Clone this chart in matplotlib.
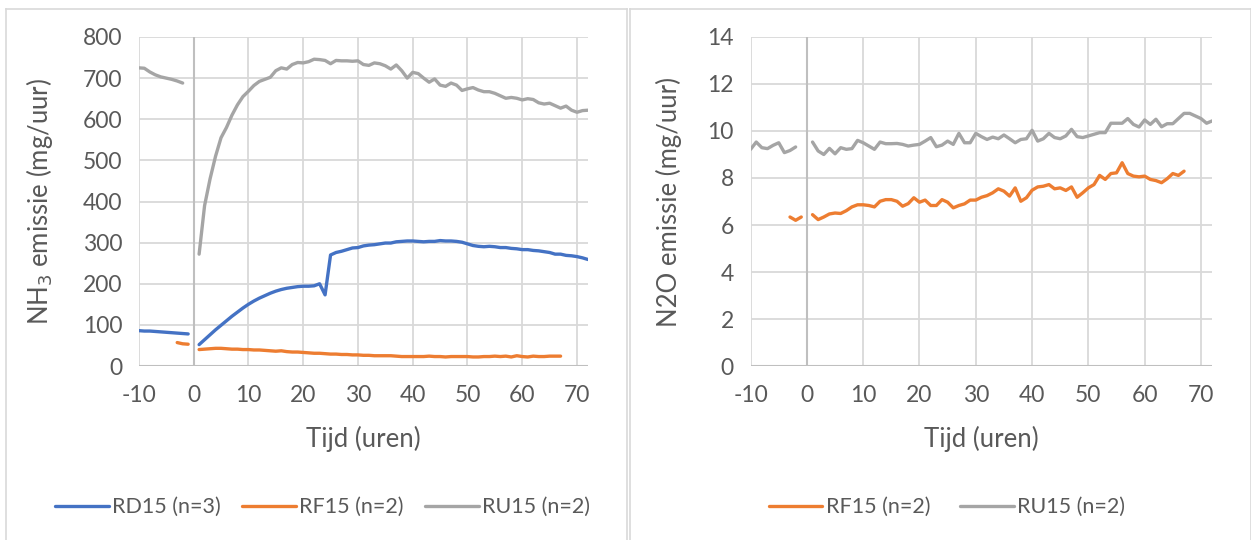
import matplotlib.pyplot as plt
from matplotlib.lines import Line2D

# tijd in uren (voor en na het uitrijden)
uur_voor_10 = list(range(-10, 0))      # -10 .. -1
uur_voor_9 = list(range(-10, -1))      # -10 .. -2
uur_voor_3 = list(range(-3, 0))        # -3 .. -1
uur_na_72 = list(range(1, 73))         # 1 .. 72
uur_na_67 = list(range(1, 68))         # 1 .. 67

# NH3 (mg/uur)
rd15_nh3_voor = [86, 85, 85, 84, 83, 82, 81, 80, 79, 78]
rd15_nh3_na = [52, 64, 76, 88, 99, 110, 121, 131, 141, 150, 158, 165, 171, 177, 182, 186,
               189, 191, 193, 194, 194, 195, 200, 173, 270, 276, 279, 283, 287, 288, 292, 294,
               295, 297, 299, 299, 302, 303, 304, 304, 303, 302, 303, 303, 305, 304, 304, 303,
               301, 297, 293, 291, 290, 291, 290, 288, 288, 286, 285, 283, 283, 281, 280, 278,
               276, 272, 272, 269, 268, 266, 263, 259]
rf15_nh3_voor = [57, 54, 53]
rf15_nh3_na = [40, 41, 42, 43, 43, 42, 41, 41, 40, 40, 39, 39, 38, 37, 36, 37, 35, 34, 34, 33,
               32, 31, 31, 30, 29, 29, 28, 28, 27, 27, 26, 26, 25, 25, 25, 25, 24, 23, 23, 23,
               23, 23, 24, 23, 23, 22, 23, 23, 23, 23, 22, 22, 23, 23, 24, 23, 24, 22, 25, 23,
               22, 24, 23, 23, 24, 24, 24]
ru15_nh3_voor = [725, 724, 715, 708, 703, 700, 697, 693, 688]
ru15_nh3_na = [272, 390, 455, 510, 555, 580, 610, 635, 655, 668, 682, 692, 697, 702, 718, 725,
               722, 733, 738, 737, 740, 746, 745, 743, 735, 743, 742, 742, 741, 742, 733, 731,
               737, 735, 730, 722, 732, 718, 700, 714, 711, 700, 690, 698, 683, 680, 688, 683,
               670, 674, 677, 671, 667, 667, 663, 657, 651, 653, 651, 647, 650, 648, 640, 637,
               639, 633, 627, 632, 622, 617, 621, 622]

# N2O (mg/uur)
rf15_n2o_voor = [6.34, 6.20, 6.34]
rf15_n2o_na = [6.44, 6.23, 6.34, 6.47, 6.51, 6.49, 6.61, 6.77, 6.86, 6.86, 6.83, 6.77, 7.01,
               7.08, 7.08, 7.01, 6.80, 6.91, 7.16, 6.97, 7.06, 6.83, 6.83, 7.08, 6.97, 6.73,
               6.83, 6.90, 7.06, 7.06, 7.18, 7.25, 7.37, 7.54, 7.44, 7.23, 7.58, 7.01, 7.16,
               7.48, 7.62, 7.65, 7.72, 7.54, 7.58, 7.47, 7.62, 7.18, 7.37, 7.58, 7.72, 8.11,
               7.94, 8.19, 8.22, 8.65, 8.19, 8.08, 8.05, 8.08, 7.94, 7.89, 7.80, 7.97, 8.19,
               8.11, 8.29]
ru15_n2o_voor = [9.22, 9.53, 9.29, 9.25, 9.39, 9.50, 9.08, 9.17, 9.32]
ru15_n2o_na = [9.53, 9.15, 9.00, 9.26, 9.03, 9.29, 9.22, 9.25, 9.60, 9.50, 9.36, 9.22, 9.53,
               9.46, 9.46, 9.47, 9.43, 9.36, 9.40, 9.43, 9.57, 9.72, 9.33, 9.40, 9.57, 9.43,
               9.90, 9.50, 9.50, 9.90, 9.76, 9.64, 9.74, 9.67, 9.83, 9.67, 9.50, 9.64, 9.67,
               10.03, 9.57, 9.67, 9.90, 9.72, 9.67, 9.79, 10.07, 9.76, 9.72, 9.79, 9.86, 9.93,
               9.93, 10.33, 10.33, 10.33, 10.53, 10.28, 10.17, 10.47, 10.28, 10.50, 10.18,
               10.31, 10.31, 10.53, 10.75, 10.75, 10.64, 10.53, 10.33, 10.43]

x_ticks = [-10, 0, 10, 20, 30, 40, 50, 60, 70]

blauw = '#4472C4'
oranje = '#ED7D31'
grijs = '#A5A5A5'
tekst = '#595959'

plt.rcParams['font.family'] = ['Lato', 'DejaVu Sans']
plt.rcParams['axes.unicode_minus'] = False

fig = plt.figure(figsize=(12.51, 5.40), dpi=100)

def opmaak(ax, ymax, ystep, ylabel, ypad):
    ax.set_xlim(-10, 72)
    ax.set_ylim(0, ymax)
    ax.set_xticks(x_ticks)
    ax.set_yticks([i * ystep for i in range(int(round(ymax / ystep)) + 1)])
    ax.grid(True, color='#d9d9d9', lw=1.3, zorder=0)
    ax.set_axisbelow(True)
    for s in ax.spines.values():
        s.set_visible(False)
    ax.axvline(0, color='#bfbfbf', lw=1.5, zorder=1)
    ax.axhline(0, color='#bfbfbf', lw=1.5, zorder=1)
    ax.tick_params(length=0, labelsize=16.5, labelcolor=tekst)
    ax.tick_params(axis='x', pad=14)
    ax.tick_params(axis='y', pad=12)
    ax.set_xlabel('Tijd (uren)', fontsize=18.5, color=tekst, labelpad=14)
    ax.set_ylabel(ylabel, fontsize=18.5, color=tekst, labelpad=ypad)

lw = 2.4

# NH3 links
ax1 = fig.add_axes([0.111, 0.3222, 0.359, 0.6093])
ax1.plot(uur_voor_10, rd15_nh3_voor, color=blauw, lw=lw, solid_capstyle='round')
l1, = ax1.plot(uur_na_72, rd15_nh3_na, color=blauw, lw=lw, solid_capstyle='round')
ax1.plot(uur_voor_3, rf15_nh3_voor, color=oranje, lw=lw, solid_capstyle='round')
l2, = ax1.plot(uur_na_67, rf15_nh3_na, color=oranje, lw=lw, solid_capstyle='round')
ax1.plot(uur_voor_9, ru15_nh3_voor, color=grijs, lw=lw, solid_capstyle='round')
l3, = ax1.plot(uur_na_72, ru15_nh3_na, color=grijs, lw=lw, solid_capstyle='round')
opmaak(ax1, 800, 100, 'NH$_3$ emissie (mg/uur)', 20)

# N2O rechts
ax2 = fig.add_axes([0.600, 0.3222, 0.369, 0.6093])
ax2.plot(uur_voor_3, rf15_n2o_voor, color=oranje, lw=lw, solid_capstyle='round')
r1, = ax2.plot(uur_na_67, rf15_n2o_na, color=oranje, lw=lw, solid_capstyle='round')
ax2.plot(uur_voor_9, ru15_n2o_voor, color=grijs, lw=lw, solid_capstyle='round')
r2, = ax2.plot(uur_na_72, ru15_n2o_na, color=grijs, lw=lw, solid_capstyle='round')
opmaak(ax2, 14, 2, 'N2O emissie (mg/uur)', 18)

# legendes onderaan
fig.legend([l1, l2, l3], ['RD15 (n=3)', 'RF15 (n=2)', 'RU15 (n=2)'],
           loc='center', bbox_to_anchor=(0.258, 0.061), ncol=3, frameon=False,
           fontsize=15.5, labelcolor=tekst, handlelength=2.5, handletextpad=0.15,
           columnspacing=1.0)
fig.legend([r1, r2], ['RF15 (n=2)', 'RU15 (n=2)'],
           loc='center', bbox_to_anchor=(0.757, 0.061), ncol=2, frameon=False,
           fontsize=15.5, labelcolor=tekst, handlelength=2.5, handletextpad=0.15,
           columnspacing=1.4)

# kaders van de grafieken
rand = '#d9d9d9'
W, H = 1251.0, 540.0
for x0, x1 in [(6, 627), (630, 1251)]:
    fig.add_artist(Line2D([x0 / W, x1 / W], [1 - 9 / H, 1 - 9 / H], color=rand, lw=1.2))
    fig.add_artist(Line2D([x0 / W, x0 / W], [0, 1 - 9 / H], color=rand, lw=1.2))
    fig.add_artist(Line2D([x1 / W, x1 / W], [0, 1 - 9 / H], color=rand, lw=1.2))

fig.savefig('out.png', dpi=100)
